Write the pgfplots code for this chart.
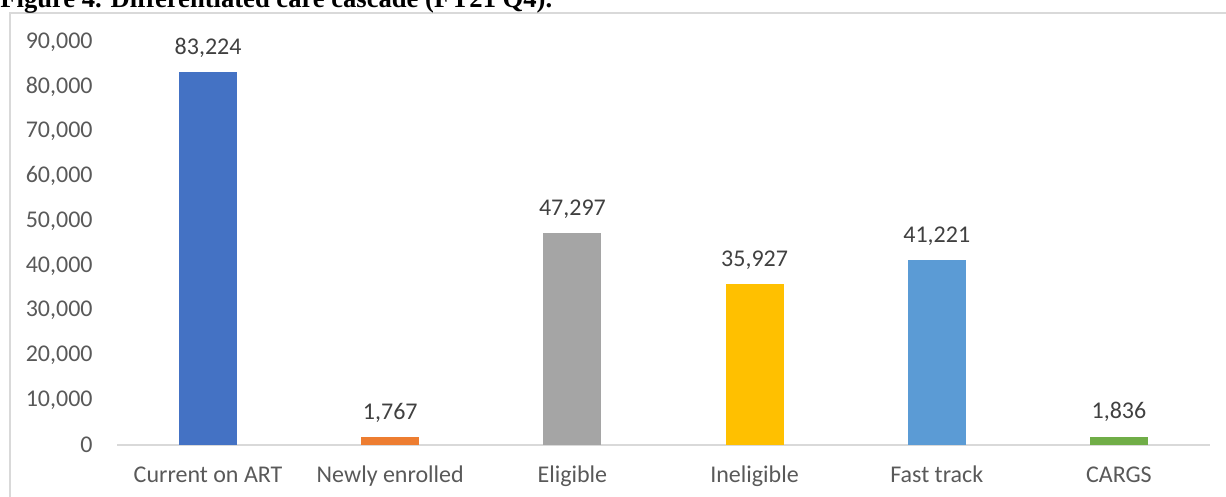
\documentclass[border=0pt]{standalone}
\usepackage{pgfplots}
\pgfplotsset{compat=1.18}
\usepackage{fontspec}
\setmainfont{Carlito}
\newfontfamily\titlefont{Liberation Serif}
\definecolor{cA}{HTML}{4472C4}
\definecolor{cB}{HTML}{ED7D31}
\definecolor{cC}{HTML}{A5A5A5}
\definecolor{cD}{HTML}{FFC000}
\definecolor{cE}{HTML}{5B9BD5}
\definecolor{cF}{HTML}{70AD47}
\definecolor{frame}{HTML}{D9D9D9}
\definecolor{ticktext}{HTML}{595959}
\definecolor{valtext}{HTML}{404040}
\begin{document}
\begin{tikzpicture}
\useasboundingbox (0,0) rectangle (613pt,248.5pt);
\draw[color=frame, line width=0.7pt] (5pt,242pt) rectangle (630pt,-20pt);
\node[anchor=base west, inner sep=0pt, font=\titlefont\bfseries\fontsize{13.3}{15}\selectfont] at (0pt,244.8pt) {Figure 4. Differentiated care cascade (FY21 Q4).};
\begin{axis}[
  at={(58.5pt,26pt)}, anchor=south west,
  scale only axis, width=546.5pt, height=201.5pt,
  xmin=-0.5, xmax=5.5, ymin=0, ymax=90000,
  enlargelimits=false, clip=false,
  ybar, bar width=29pt, bar shift=0pt,
  axis x line*=bottom, axis y line*=left,
  x axis line style={draw=frame, line width=0.7pt, -},
  y axis line style={draw=none},
  major tick length=0pt,
  ytick={0,10000,...,90000},
  xtick={0,1,2,3,4,5},
  xticklabels={Current on ART, Newly enrolled, Eligible, Ineligible, Fast track, CARGS},
  scaled y ticks=false,
  /pgf/number format/.cd, fixed, 1000 sep={,}, assume math mode=true,
  /pgfplots/.cd,
  tick label style={font=\fontsize{12}{14}\selectfont, text=ticktext},
  y tick label style={anchor=east, inner sep=0pt, xshift=-12pt},
  x tick label style={anchor=base, inner sep=0pt, yshift=-19pt},
  nodes near coords,
  every node near coord/.append style={anchor=base, inner sep=0pt, yshift=9pt, font=\fontsize{12}{14}\selectfont, text=valtext},
]
\addplot[fill=cA, draw=none] coordinates {(0,83224)};
\addplot[fill=cB, draw=none] coordinates {(1,1767)};
\addplot[fill=cC, draw=none] coordinates {(2,47297)};
\addplot[fill=cD, draw=none] coordinates {(3,35927)};
\addplot[fill=cE, draw=none] coordinates {(4,41221)};
\addplot[fill=cF, draw=none] coordinates {(5,1836)};
\end{axis}
\end{tikzpicture}
\end{document}
